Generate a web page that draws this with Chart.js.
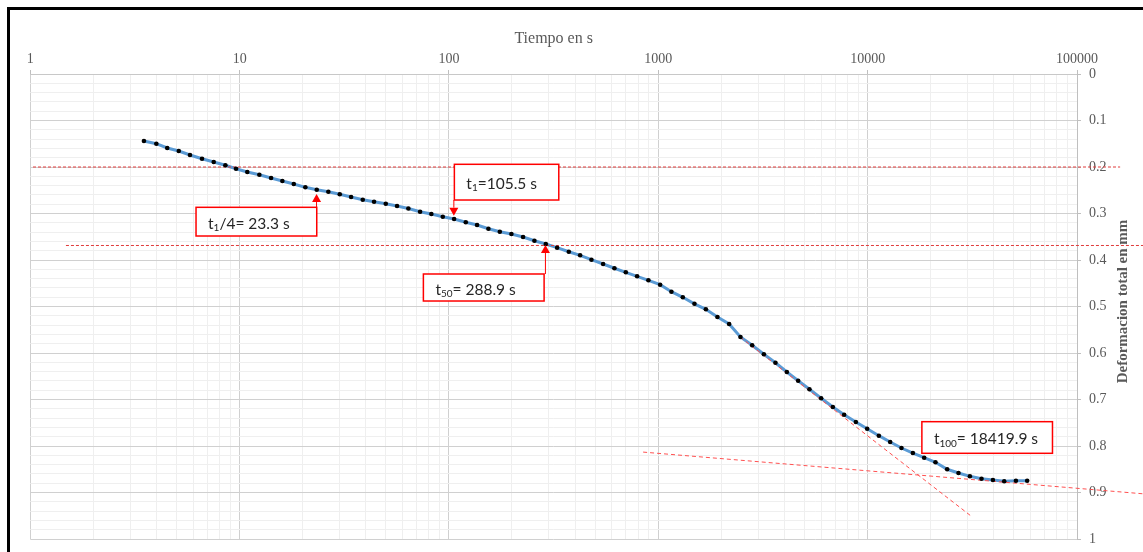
<!DOCTYPE html>
<html><head><meta charset="utf-8">
<script src="https://cdn.jsdelivr.net/npm/chart.js@4.4.1/dist/chart.umd.min.js"></script>
<style>
html,body{margin:0;padding:0;background:#fff;overflow:hidden}
#wrap{position:absolute;left:0;top:0;width:1143px;height:552px;overflow:hidden}
#frame{position:absolute;left:7px;top:7px;width:1200px;height:600px;border-left:3px solid #000;border-top:3px solid #000;pointer-events:none}
canvas{position:absolute;left:0;top:0}
</style></head><body>
<div id="wrap"><canvas id="c" width="1143" height="552"></canvas><div id="frame"></div></div>
<script>
// ---- data ----
const TIME_S = [3.49,4.00,4.51,5.12,5.79,6.61,7.52,8.55,9.61,10.88,12.42,14.13,16.00,18.14,20.60,23.35,26.53,30.08,34.07,38.74,43.86,49.89,56.49,63.97,72.77,82.39,93.41,105.8,120.3,136.2,154.3,174.9,198.7,225.9,255.9,290.1,328.5,373.6,423.1,479.1,544.9,617.1,699.4,791.9,896.7,1020,1155,1309,1488,1687,1916,2179,2468,2807,3193,3627,4111,4656,5272,5995,6819,7722,8782,9945,11310,12810,14505,16444,18621,21085,23977,27153,30782,34985,39656,44901,51073,57810];
const DEFORMATION_MM = [0.1441,0.1499,0.1591,0.1656,0.1742,0.1822,0.1892,0.1963,0.2037,0.2108,0.2166,0.2237,0.2301,0.2366,0.2437,0.2488,0.2531,0.2587,0.2645,0.2703,0.2746,0.2789,0.2839,0.2892,0.2961,0.3011,0.3069,0.3118,0.3189,0.3247,0.3327,0.3391,0.3441,0.3505,0.3585,0.3656,0.3735,0.3822,0.3899,0.3994,0.4086,0.4178,0.4265,0.4351,0.4437,0.4531,0.4682,0.4802,0.4942,0.5060,0.5226,0.5376,0.5656,0.5834,0.6028,0.6209,0.6409,0.6596,0.6781,0.6974,0.7161,0.7327,0.7484,0.7630,0.7778,0.7914,0.8043,0.8151,0.8252,0.8351,0.8501,0.8581,0.8652,0.8703,0.8731,0.8759,0.8746,0.8746];
const X_TICK_LABELS = ['1','10','100','1000','10000','100000'];
const Y_TICK_LABELS = ['0','0.1','0.2','0.3','0.4','0.5','0.6','0.7','0.8','0.9','1'];
// reference / construction lines
const REF_LINE_02_X = [1.03, 160700];
const REF_LINE_02_Y = [0.2, 0.2];
const REF_LINE_T50_X = [1.48, 207000];
const REF_LINE_T50_Y = [0.3688, 0.3688];
const TANGENT_STEEP_X = [2460, 31470];
const TANGENT_STEEP_Y = [0.5657, 0.952];
const TANGENT_FLAT_X = [846, 207000];
const TANGENT_FLAT_Y = [0.8131, 0.9028];
// annotation labels: text parts, box corners (x1,x2,y1,y2 in data units), arrow
const NOTE_T14  = {parts:[['t',0],['1',1],['/4= 23.3 s',0]], box:[6.19,23.35,0.2867,0.3484], arrow:[23.3,0.3484,0.2581]};
const NOTE_T1   = {parts:[['t',0],['1',1],['=105.5 s',0]], box:[106.1,334.6,0.1942,0.2710], arrow:[105.5,0.2710,0.3047]};
const NOTE_T50  = {parts:[['t',0],['50',1],['= 288.9 s',0]], box:[75.46,284.7,0.4301,0.4882], arrow:[288.9,0.4301,0.3677]};
const NOTE_T100 = {parts:[['t',0],['100',1],['= 18419.9 s',0]], box:[18155,76360,0.7477,0.8157], arrow:null};
const NOTES = [NOTE_T14, NOTE_T1, NOTE_T50, NOTE_T100];

const pts = (xs, ys) => xs.map((v, i) => ({x: v, y: ys[i]}));
const isPow10 = v => Math.abs(Math.log10(v) - Math.round(Math.log10(v))) < 1e-9;
const isTenth = v => Math.abs(v * 10 - Math.round(v * 10)) < 1e-9;

const notesPlugin = {
  id: 'notes',
  afterDatasetsDraw(chart) {
    const {ctx, scales: {x, y}} = chart;
    ctx.save();
    for (const n of NOTES) {
      const l = x.getPixelForValue(n.box[0]), r = x.getPixelForValue(n.box[1]);
      const t = y.getPixelForValue(n.box[2]), b = y.getPixelForValue(n.box[3]);
      ctx.fillStyle = '#ffffff';
      ctx.fillRect(l, t, r - l, b - t);
      ctx.strokeStyle = '#ff0000';
      ctx.lineWidth = 1.5;
      ctx.strokeRect(l, t, r - l, b - t);
      let tx = l + 12;
      const ty = (t + b) / 2 + 2;
      ctx.fillStyle = '#262626';
      ctx.textBaseline = 'middle';
      ctx.textAlign = 'left';
      for (const [s, sub] of n.parts) {
        ctx.font = sub ? '10px Lato' : '15.5px Lato';
        ctx.fillText(s, tx, sub ? ty + 4 : ty);
        tx += ctx.measureText(s).width;
      }
      if (n.arrow) {
        const ax = x.getPixelForValue(n.arrow[0]);
        const from = y.getPixelForValue(n.arrow[1]);
        const tip = y.getPixelForValue(n.arrow[2]);
        const dir = tip < from ? 1 : -1;
        const hh = 8, hw = 4.5;
        ctx.strokeStyle = '#ff0000';
        ctx.lineWidth = 1;
        ctx.beginPath();
        ctx.moveTo(ax, from);
        ctx.lineTo(ax, tip + dir * hh);
        ctx.stroke();
        ctx.fillStyle = '#ff0000';
        ctx.beginPath();
        ctx.moveTo(ax, tip);
        ctx.lineTo(ax - hw, tip + dir * hh);
        ctx.lineTo(ax + hw, tip + dir * hh);
        ctx.closePath();
        ctx.fill();
      }
    }
    ctx.restore();
  },
  afterDraw(chart) {
    const {ctx, chartArea} = chart;
    ctx.save();
    ctx.translate(1123, (chartArea.top + chartArea.bottom) / 2 - 5);
    ctx.rotate(-Math.PI / 2);
    ctx.font = 'bold 15px "Liberation Serif"';
    ctx.fillStyle = '#595959';
    ctx.textAlign = 'center';
    ctx.textBaseline = 'middle';
    ctx.fillText('Deformacion total en mm', 0, 0);
    ctx.restore();
  }
};

const redDash = (xs, ys, color, dash, order) => ({
  data: pts(xs, ys), showLine: true, borderColor: color, borderWidth: 1,
  borderDash: dash, pointRadius: 0, clip: false, order: order, fill: false
});

new Chart(document.getElementById('c'), {
  type: 'scatter',
  data: {
    datasets: [
      {data: pts(TIME_S, DEFORMATION_MM), showLine: false, pointRadius: 2.3,
       pointBackgroundColor: '#000', pointBorderWidth: 0, order: 0},
      redDash(TANGENT_STEEP_X, TANGENT_STEEP_Y, '#ff5050', [4, 3], 1),
      redDash(TANGENT_FLAT_X, TANGENT_FLAT_Y, '#ff5050', [4, 3], 1),
      redDash(REF_LINE_02_X, REF_LINE_02_Y, '#e03c3c', [3, 2], 1),
      redDash(REF_LINE_T50_X, REF_LINE_T50_Y, '#e03c3c', [3, 2], 1),
      {data: pts(TIME_S, DEFORMATION_MM), showLine: true, borderColor: '#5b9bd5',
       borderWidth: 3, pointRadius: 0, tension: 0, order: 2}
    ]
  },
  options: {
    responsive: false,
    animation: false,
    layout: {padding: {left: 30.3, right: 0, top: 0, bottom: 13}},
    plugins: {legend: {display: false}, tooltip: {enabled: false}},
    scales: {
      x: {
        type: 'logarithmic', position: 'top', min: 1, max: 100000,
        afterFit: s => { s.height = 74; s.paddingLeft = 0; s.paddingRight = 0; },
        afterBuildTicks: s => {
          const t = [];
          for (let e = 0; e < 5; e++) for (let m = 1; m < 10; m++) t.push({value: m * Math.pow(10, e)});
          t.push({value: 100000});
          s.ticks = t;
        },
        ticks: {
          autoSkip: false, maxRotation: 0, padding: 2, color: '#595959',
          font: {family: 'Liberation Serif', size: 14},
          callback: v => isPow10(v) ? X_TICK_LABELS[Math.round(Math.log10(v))] : ''
        },
        grid: {
          color: c => isPow10(c.tick.value) ? '#d0d0d0' : '#efefef',
          tickColor: c => isPow10(c.tick.value) ? '#bfbfbf' : 'rgba(0,0,0,0)',
          tickLength: 4, lineWidth: 1
        },
        border: {display: true, color: '#c8c8c8'},
        title: {display: true, text: 'Tiempo en s', color: '#595959',
          font: {family: 'Liberation Serif', size: 16}, padding: {top: 29, bottom: 0}}
      },
      y: {
        type: 'linear', position: 'right', reverse: true, min: 0, max: 1,
        afterFit: s => { s.width = 66; s.paddingTop = 0; s.paddingBottom = 0; },
        afterBuildTicks: s => {
          const t = [];
          for (let i = 0; i <= 50; i++) t.push({value: i / 50});
          s.ticks = t;
        },
        ticks: {
          autoSkip: false, padding: 8, color: '#595959',
          font: {family: 'Liberation Serif', size: 14},
          callback: v => isTenth(v) ? Y_TICK_LABELS[Math.round(v * 10)] : ''
        },
        grid: {
          color: c => isTenth(c.tick.value) ? '#d0d0d0' : '#efefef',
          tickColor: c => isTenth(c.tick.value) ? '#bfbfbf' : 'rgba(0,0,0,0)',
          tickLength: 4, lineWidth: 1
        },
        border: {display: true, color: '#bfbfbf'}
      }
    }
  },
  plugins: [notesPlugin]
});
</script>
</body></html>
